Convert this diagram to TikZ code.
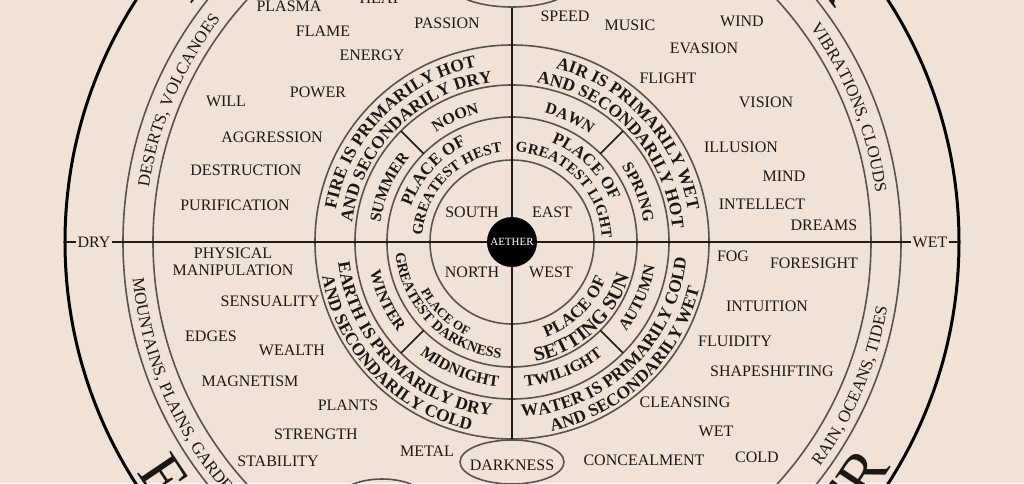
\documentclass[tikz,border=0pt]{standalone}
\usepackage{fontspec}
\setmainfont{Liberation Serif}
\usepackage{xcolor}
\usetikzlibrary{decorations.text,shapes.geometric}
\definecolor{paper}{HTML}{F0E2D6}
\definecolor{ink}{HTML}{1C1815}
\definecolor{rule}{HTML}{5A524C}
\definecolor{dark}{HTML}{1E1A17}
\newcommand{\fword}{\fontsize{16}{17}\selectfont}
\newcommand{\fcore}{\fontsize{11}{11}\selectfont}
\newcommand{\fband}{\fontsize{17}{19}\selectfont}
\newcommand{\fring}{\fontsize{17.5}{19}\selectfont\bfseries}
\newcommand{\fseason}{\fontsize{16}{18}\selectfont\bfseries}
\newcommand{\fplace}{\fontsize{17}{19}\selectfont\bfseries}
\newcommand{\fgreat}{\fontsize{15}{17}\selectfont\bfseries}
\newcommand{\fsun}{\fontsize{20}{22}\selectfont\bfseries}
\newcommand{\fdark}{\fontsize{14.5}{16}\selectfont\bfseries}
\newcommand{\fsmall}{\fontsize{13}{15}\selectfont\bfseries}
\newcommand{\fbig}{\fontsize{62}{64}\selectfont}
\tikzset{
  word/.style={font=\fword,text=ink,inner sep=1pt,align=center},
  ring/.style={draw=rule,line width=1.6pt},
  rim/.style={ellipse,draw=rule,line width=1.6pt,minimum width=104pt,minimum height=44pt,inner sep=0pt},
  axis/.style={draw=dark,line width=1.6pt},
  spoke/.style={draw=dark,line width=1.6pt},
  core/.style={circle,fill=black,text=white,minimum size=50pt,inner sep=0pt,font=\fcore},
}
% text on a circle: baseline radius, middle angle, font, text
\newcommand{\cwtext}[4]{%
  \path[decorate,decoration={text along path,text align=center,text color=ink,text={|#3|#4}}]
    (#2+85:#1) arc[start angle=#2+85,end angle=#2-85,radius=#1];}
\newcommand{\ccwtext}[4]{%
  \path[decorate,decoration={text along path,text align=center,text color=ink,text={|#3|#4}}]
    (#2-85:#1) arc[start angle=#2-85,end angle=#2+85,radius=#1];}

\begin{document}
\begin{tikzpicture}[x=1pt,y=1pt]
  \useasboundingbox (-512,-241) rectangle (512,242);
  \clip (-512,-241) rectangle (512,242);
  \fill[paper] (-512,-241) rectangle (512,242);

  \draw[line width=3pt,draw=black] (0,0) circle[radius=447pt];
  \foreach \r in {82pt,125pt,157pt,197pt,359pt,389pt}
    \draw[ring] (0,0) circle[radius=\r];

  \node[rim,minimum width=120pt] (lightrim) at (0,257) {};
  \node[rim] (darkrim) at (0,-220) {};
  \node[rim,minimum width=90pt] (leftrim) at (-130,-259) {};
  \node[word] (darkness) at (0,-223) {DARKNESS};

  \node[word] (dry) at (-418,0) {DRY};
  \node[word] (wet) at (418,0) {WET};
  \coordinate (west) at (180:447pt);
  \coordinate (east) at (0:447pt);
  \draw[axis] (west) -- (dry) -- (wet) -- (east);
  \draw[axis] (lightrim) -- (darkrim);
  \foreach \a in {45,135,225,315}
    \draw[spoke] (\a:125pt) -- (\a:157pt);

  \node[core] (aether) at (0,0) {AETHER};
  \node[word] (south) at (-40,30) {SOUTH};
  \node[word] (east) at (40,30) {EAST};
  \node[word] (north) at (-40,-30) {NORTH};
  \node[word] (westword) at (39,-30) {WEST};

  \cwtext{107pt}{138}{\fplace}{PLACE OF}
  \cwtext{90pt}{136}{\fgreat}{GREATEST HEST}
  \cwtext{107pt}{45.5}{\fplace}{PLACE OF}
  \cwtext{90pt}{45}{\fgreat}{GREATEST LIGHT}
  \ccwtext{104pt}{226.5}{\fsmall}{PLACE OF}
  \ccwtext{117pt}{225}{\fdark}{GREATEST DARKNESS}
  \ccwtext{101pt}{314}{\fplace}{PLACE OF}
  \ccwtext{122pt}{312.5}{\fsun}{SETTING SUN}

  \cwtext{133pt}{156}{\fseason}{SUMMER}
  \cwtext{133pt}{114.5}{\fseason}{NOON}
  \cwtext{133pt}{65}{\fseason}{DAWN}
  \cwtext{133pt}{21.5}{\fseason}{SPRING}
  \ccwtext{145pt}{205}{\fseason}{WINTER}
  \ccwtext{145pt}{247.5}{\fseason}{MIDNIGHT}
  \ccwtext{145pt}{292}{\fseason}{TWILIGHT}
  \ccwtext{145pt}{336}{\fseason}{AUTUMN}

  \cwtext{179pt}{135.5}{\fring}{FIRE IS PRIMARILY HOT}
  \cwtext{161pt}{135}{\fring}{AND SECONDARILY DRY}
  \cwtext{179pt}{43}{\fring}{AIR IS PRIMARILY WET}
  \cwtext{161pt}{43}{\fring}{AND SECONDARILY HOT}
  \ccwtext{175pt}{225}{\fring}{EARTH IS PRIMARILY DRY}
  \ccwtext{193pt}{224}{\fring}{AND SECONDARILY COLD}
  \ccwtext{175pt}{314}{\fring}{WATER IS PRIMARILY COLD}
  \ccwtext{193pt}{314}{\fring}{AND SECONDARILY WET}

  \cwtext{367pt}{157}{\fband}{DESERTS, VOLCANOES}
  \cwtext{367pt}{21.7}{\fband}{VIBRATIONS, CLOUDS}
  \ccwtext{381pt}{337}{\fband}{RAIN, OCEANS, TIDES}
  \path[decorate,decoration={text along path,text align=left,text color=ink,text={|\fband|MOUNTAINS, PLAINS, GARDENS}}]
    (185.5:381pt) arc[start angle=185.5,end angle=270,radius=381pt];

  \cwtext{398pt}{134}{\fbig}{FIRE}
  \cwtext{398pt}{43.5}{\fbig}{AIR}
  \ccwtext{440pt}{225}{\fbig}{EARTH}
  \ccwtext{440pt}{315}{\fbig}{WATER}

  \node[word] (plasma) at (-223,236) {PLASMA};
  \node[word] (heat) at (-132,244) {HEAT};
  \node[word] (flame) at (-189,211) {FLAME};
  \node[word] (passion) at (-65,219) {PASSION};
  \node[word] (energy) at (-140,187) {ENERGY};
  \node[word] (will) at (-286,141) {WILL};
  \node[word] (power) at (-194,150) {POWER};
  \node[word] (aggression) at (-240,105) {AGGRESSION};
  \node[word] (destruction) at (-266,72) {DESTRUCTION};
  \node[word] (purification) at (-277,37) {PURIFICATION};

  \node[word] (speed) at (53,226) {SPEED};
  \node[word] (music) at (118,217) {MUSIC};
  \node[word] (wind) at (230,221) {WIND};
  \node[word] (evasion) at (192,194) {EVASION};
  \node[word] (flight) at (156,164) {FLIGHT};
  \node[word] (vision) at (254,140) {VISION};
  \node[word] (illusion) at (229,95) {ILLUSION};
  \node[word] (mind) at (272,66) {MIND};
  \node[word] (intellect) at (250,38) {INTELLECT};
  \node[word] (dreams) at (312,17) {DREAMS};

  \node[word,font=\fontsize{16}{17}\selectfont] (physical) at (-279,-20) {PHYSICAL\\MANIPULATION};
  \node[word] (sensuality) at (-242,-59) {SENSUALITY};
  \node[word] (edges) at (-301,-94) {EDGES};
  \node[word] (wealth) at (-220,-108) {WEALTH};
  \node[word] (magnetism) at (-262,-139) {MAGNETISM};
  \node[word] (plants) at (-164,-163) {PLANTS};
  \node[word] (strength) at (-196,-192) {STRENGTH};
  \node[word] (stability) at (-234,-219) {STABILITY};
  \node[word] (metal) at (-85,-209) {METAL};

  \node[word] (fog) at (221,-14) {FOG};
  \node[word] (foresight) at (302,-21) {FORESIGHT};
  \node[word] (intuition) at (255,-64) {INTUITION};
  \node[word] (fluidity) at (223,-99) {FLUIDITY};
  \node[word] (shapeshifting) at (260,-129) {SHAPESHIFTING};
  \node[word] (cleansing) at (173,-160) {CLEANSING};
  \node[word] (wetness) at (204,-189) {WET};
  \node[word] (concealment) at (132,-218) {CONCEALMENT};
  \node[word] (cold) at (245,-215) {COLD};
\end{tikzpicture}
\end{document}
